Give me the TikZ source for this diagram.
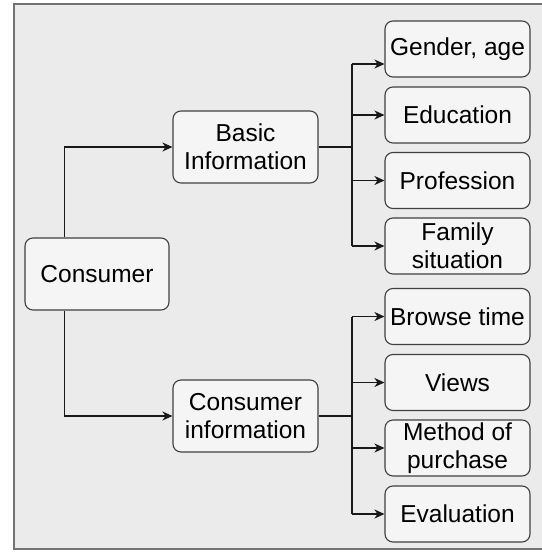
\documentclass[tikz,border=0pt]{standalone}
\usepackage{fontspec}
\setmainfont{Liberation Sans}
\usetikzlibrary{arrows.meta}
\begin{document}
\begin{tikzpicture}[x=1pt,y=-1pt,
  box/.style={draw=black!75,fill=black!4,rounded corners=8pt,line width=1.1pt,
    align=center,inner sep=0pt,font=\fontsize{24.5}{28}\selectfont,text=black},
  midbox/.style={box,minimum width=145pt,minimum height=72pt},
  leaf/.style={box,minimum width=145pt,minimum height=56pt},
  arr/.style={line width=1.3pt,draw=black!90,-{Stealth[length=10pt,width=9pt,inset=3pt]}},
  ln/.style={line width=1.3pt,draw=black!90}]
\useasboundingbox (0,0) rectangle (541,554);
\path[fill=black!8,draw=black!55,line width=1.5pt] (14,4) rectangle (548,549);

\node[box,minimum width=144pt,minimum height=72pt] (cons) at (97,274) {Consumer};
\node[midbox] (basic) at (245.5,147) {Basic\\Information};
\node[midbox] (cinfo) at (245.5,416) {Consumer\\information};

\node[leaf] (l1) at (457.5,49) {Gender, age};
\node[leaf] (l2) at (457.5,115) {Education};
\node[leaf] (l3) at (457.5,180.5) {Profession};
\node[leaf] (l4) at (457.5,246) {Family\\situation};
\node[leaf] (l5) at (457.5,316.5) {Browse time};
\node[leaf] (l6) at (457.5,382.5) {Views};
\node[leaf] (l7) at (457.5,448) {Method of\\purchase};
\node[leaf] (l8) at (457.5,514) {Evaluation};

\coordinate (ct) at ([xshift=40pt]cons.north west);
\coordinate (cb) at ([xshift=40pt]cons.south west);
\draw[arr] (ct) |- (basic.west);
\draw[arr] (cb) |- (cinfo.west);

\coordinate (bt) at (352,147);
\coordinate (g1) at (352,64);
\draw[ln] (basic.east) -- (bt);
\draw[ln] (g1) -- (bt |- l4.west);
\draw[arr] (g1) -- (g1 -| l1.west);
\foreach \n in {l2,l3,l4} \draw[arr] (bt |- \n.west) -- (\n.west);

\coordinate (ut) at (352,416);
\draw[ln] (cinfo.east) -- (ut);
\draw[ln] (ut |- l5.west) -- (ut |- l8.west);
\foreach \n in {l5,l6,l7,l8} \draw[arr] (ut |- \n.west) -- (\n.west);
\end{tikzpicture}
\end{document}
